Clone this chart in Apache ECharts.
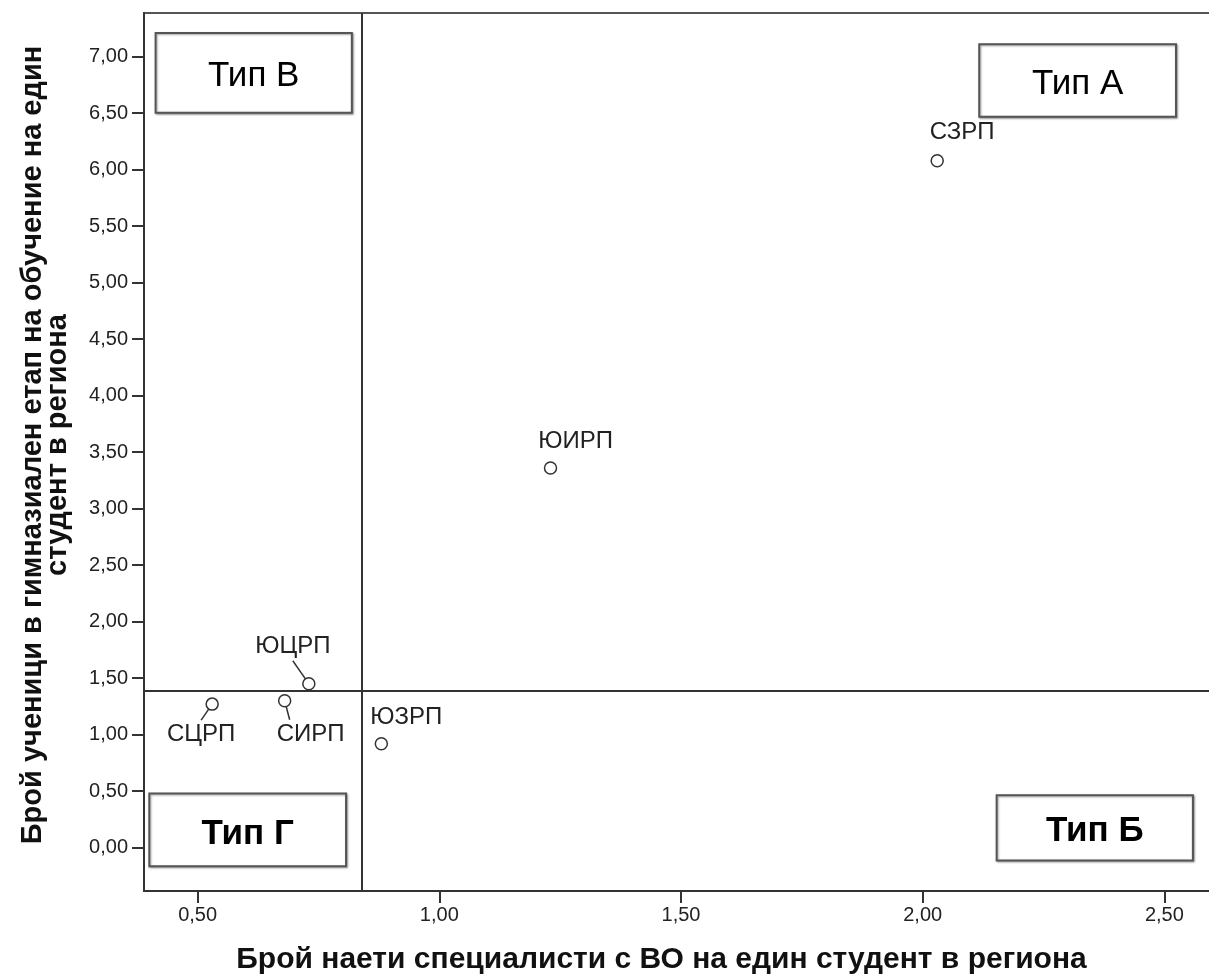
<!DOCTYPE html>
<html>
<head>
<meta charset="utf-8">
<script src="https://cdn.jsdelivr.net/npm/echarts@6/dist/echarts.min.js"></script>
<style>
html,body{margin:0;padding:0;background:#fff;overflow:hidden;}
#chart{width:1209px;height:978px;}
</style>
</head>
<body>
<div id="chart"></div>
<script>
// ---- data ----
const regions = ['СЗРП', 'ЮИРП', 'ЮЗРП', 'ЮЦРП', 'СИРП', 'СЦРП'];
const specialistsPerStudent = [2.03, 1.23, 0.88, 0.73, 0.68, 0.53];
const pupilsPerStudent = [6.08, 3.36, 0.92, 1.45, 1.30, 1.27];
const xTicks = [0.5, 1.0, 1.5, 2.0, 2.5];
const yTicks = [0, 0.5, 1, 1.5, 2, 2.5, 3, 3.5, 4, 4.5, 5, 5.5, 6, 6.5, 7];
const xRange = [0.389, 2.613];
const yRange = [-0.384, 7.387];
const xMean = 0.841;
const yMean = 1.393;
const xTitle = 'Брой наети специалисти с ВО на един студент в региона';
const yTitle = 'Брой ученици в гимназиален етап на обучение на един\nстудент в региона';
// quadrant annotation boxes (data units)
const boxNames = ['Тип В', 'Тип А', 'Тип Б', 'Тип Г'];
const boxX = [[0.413, 0.819], [2.117, 2.524], [2.153, 2.559], [0.400, 0.807]];
const boxY = [[6.505, 7.21], [6.469, 7.11], [-0.113, 0.463], [-0.166, 0.478]];

// ---- styling ----
const FONT = "'Liberation Sans', Arial, sans-serif";
const labelShift = {
  'СЗРП': [25, -28], 'ЮИРП': [25, -27], 'ЮЗРП': [25, -26],
  'ЮЦРП': [-16, -37.5], 'СЦРП': [-11, 30.5], 'СИРП': [5, 33.5]
};
const labelPad = {
  'ЮЦРП': [0, 0, 5, 0], 'СЦРП': [5, 0, 0, 0], 'СИРП': [5, 0, 0, 42]
};
const withLeader = { 'ЮЦРП': true, 'СЦРП': true, 'СИРП': true };
const boxBold = { 'Тип В': false, 'Тип А': false, 'Тип Б': true, 'Тип Г': true };

const fmt = v => v.toFixed(2).replace('.', ',');

const points = regions.map((name, i) => ({
  name: name,
  value: [specialistsPerStudent[i], pupilsPerStudent[i]],
  label: labelPad[name] ? { padding: labelPad[name], backgroundColor: 'rgba(255,255,255,0)' } : {},
  labelLine: { show: !!withLeader[name] }
}));

const areas = boxNames.map((n, i) => ([
  { name: n, coord: [boxX[i][0], boxY[i][0]],
    label: { fontWeight: boxBold[n] ? 'bold' : 'normal' } },
  { coord: [boxX[i][1], boxY[i][1]] }
]));

const chart = echarts.init(document.getElementById('chart'), null, { renderer: 'canvas' });
chart.setOption({
  animation: false,
  backgroundColor: '#fff',
  textStyle: { fontFamily: FONT },
  grid: {
    left: 144, top: 13, width: 1075, height: 878,
    outerBoundsMode: 'none', containLabel: false,
    show: true, borderColor: '#555', borderWidth: 2, backgroundColor: 'transparent'
  },
  xAxis: {
    type: 'value', min: xRange[0], max: xRange[1],
    name: xTitle, nameLocation: 'middle', nameGap: 54,
    nameTextStyle: { fontFamily: FONT, fontSize: 30, fontWeight: 'bold', color: '#111', padding: [0, 40, 0, 0] },
    axisLine: { show: true, onZero: false, lineStyle: { color: '#333', width: 2 } },
    axisTick: { show: true, length: 12, customValues: xTicks, lineStyle: { color: '#333', width: 2 } },
    axisLabel: { customValues: xTicks, formatter: fmt, margin: 14, fontSize: 20, color: '#222', fontFamily: FONT },
    splitLine: { show: false }
  },
  yAxis: {
    type: 'value', min: yRange[0], max: yRange[1],
    name: yTitle, nameLocation: 'middle', nameGap: 74,
    nameTextStyle: { fontFamily: FONT, fontSize: 29, fontWeight: 'bold', color: '#111', lineHeight: 25, padding: [0, 0, 0, 14] },
    axisLine: { show: true, onZero: false, lineStyle: { color: '#333', width: 2 } },
    axisTick: { show: true, length: 12, customValues: yTicks, lineStyle: { color: '#333', width: 2 } },
    axisLabel: { customValues: yTicks, formatter: fmt, margin: 16, fontSize: 20, color: '#222', fontFamily: FONT },
    splitLine: { show: false }
  },
  series: [{
    type: 'scatter',
    data: points,
    symbol: 'circle',
    symbolSize: 12,
    itemStyle: { color: '#fff', borderColor: '#333', borderWidth: 1.5, opacity: 1 },
    label: {
      show: true, position: 'inside', formatter: '{b}',
      fontFamily: FONT, fontSize: 24, color: '#222'
    },
    labelLayout: function (p) {
      const s = labelShift[regions[p.dataIndex]];
      return { dx: s[0], dy: s[1] };
    },
    labelLine: { show: false, lineStyle: { color: '#333', width: 1.5 } },
    markLine: {
      silent: true, symbol: 'none', animation: false,
      label: { show: false },
      lineStyle: { color: '#333', width: 2, type: 'solid' },
      data: [{ xAxis: xMean }, { yAxis: yMean }]
    },
    markArea: {
      silent: true,
      itemStyle: { color: '#fff', borderColor: '#555', borderWidth: 2,
        shadowColor: 'rgba(0,0,0,0.35)', shadowBlur: 2, shadowOffsetX: 1, shadowOffsetY: 1 },
      label: { show: true, position: 'inside', offset: [0, 4], fontFamily: FONT, fontSize: 35, color: '#000' },
      data: areas
    }
  }]
});
</script>
</body>
</html>
